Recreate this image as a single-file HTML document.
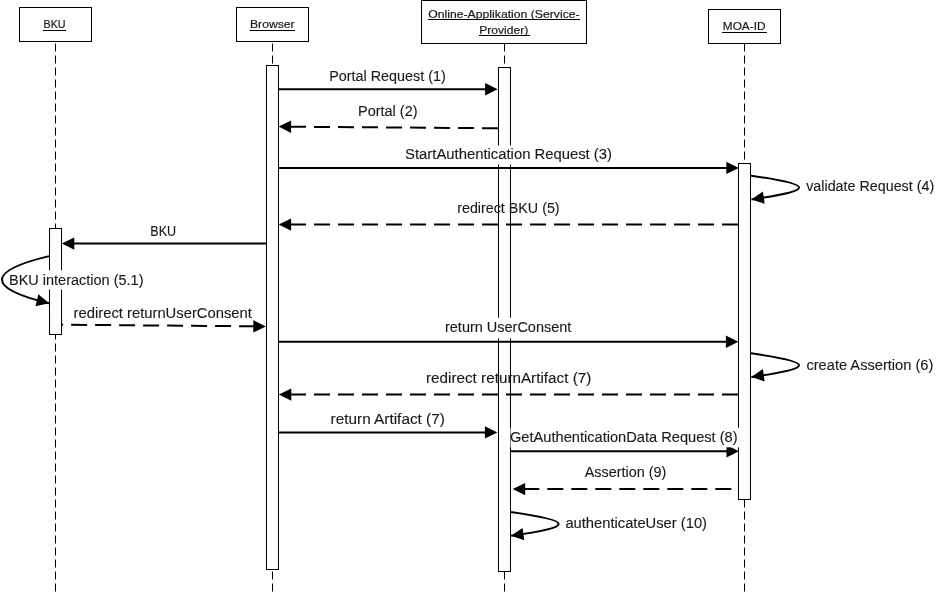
<!DOCTYPE html><html><head><meta charset="utf-8"><style>html,body{margin:0;padding:0;background:#fff;width:936px;height:592px;overflow:hidden}svg{display:block;will-change:transform}text{font-family:"Liberation Sans", sans-serif}</style></head><body>
<svg width="936" height="592" viewBox="0 0 936 592">
<rect x="0" y="0" width="936" height="592" fill="#fff"/>
<line x1="55.5" y1="43.5" x2="55.5" y2="592" stroke="#000" stroke-width="1" stroke-dasharray="8 4"/>
<line x1="272.5" y1="43.5" x2="272.5" y2="592" stroke="#000" stroke-width="1" stroke-dasharray="8 4"/>
<line x1="504.5" y1="43.5" x2="504.5" y2="592" stroke="#000" stroke-width="1" stroke-dasharray="8 4"/>
<line x1="744.5" y1="43.5" x2="744.5" y2="592" stroke="#000" stroke-width="1" stroke-dasharray="8 4"/>
<rect x="19.5" y="7.5" width="72" height="34" fill="#fff" stroke="#000" stroke-width="1"/>
<rect x="236.5" y="7.5" width="72" height="34" fill="#fff" stroke="#000" stroke-width="1"/>
<rect x="421.5" y="0.5" width="165" height="43" fill="#fff" stroke="#000" stroke-width="1"/>
<rect x="708.5" y="9.5" width="72" height="34" fill="#fff" stroke="#000" stroke-width="1"/>
<text x="43.5" y="28" font-size="11.5" textLength="22.0" lengthAdjust="spacingAndGlyphs" fill="#1a1a1a" stroke="#1a1a1a" stroke-width="0.2">BKU</text>
<rect x="43" y="30" width="23" height="1" fill="#000"/>
<text x="250" y="28" font-size="11.5" textLength="44.5" lengthAdjust="spacingAndGlyphs" fill="#1a1a1a" stroke="#1a1a1a" stroke-width="0.2">Browser</text>
<rect x="249.5" y="30" width="45.5" height="1" fill="#000"/>
<text x="428.2" y="18" font-size="11.5" textLength="151.5" lengthAdjust="spacingAndGlyphs" fill="#1a1a1a" stroke="#1a1a1a" stroke-width="0.2">Online-Applikation (Service-</text>
<rect x="428" y="19" width="152" height="1" fill="#000"/>
<text x="479.2" y="33.7" font-size="11.5" textLength="49" lengthAdjust="spacingAndGlyphs" fill="#1a1a1a" stroke="#1a1a1a" stroke-width="0.2">Provider)</text>
<rect x="479" y="35" width="51" height="1" fill="#000"/>
<text x="722.8" y="30" font-size="11.5" textLength="42.7" lengthAdjust="spacingAndGlyphs" fill="#1a1a1a" stroke="#1a1a1a" stroke-width="0.2">MOA-ID</text>
<rect x="722" y="32" width="45" height="1" fill="#000"/>
<rect x="266.5" y="65.5" width="12" height="504" fill="#fff" stroke="#000" stroke-width="1"/>
<rect x="498.5" y="67.5" width="12" height="504" fill="#fff" stroke="#000" stroke-width="1"/>
<rect x="738.5" y="163.5" width="12" height="336" fill="#fff" stroke="#000" stroke-width="1"/>
<rect x="49.5" y="228.5" width="12" height="106" fill="#fff" stroke="#000" stroke-width="1"/>
<text x="329.2" y="80.6" font-size="14" textLength="116.5" lengthAdjust="spacingAndGlyphs" fill="#1a1a1a" stroke="#1a1a1a" stroke-width="0.12">Portal Request (1)</text>
<line x1="278" y1="89.2" x2="486.60" y2="89.20" stroke="#000" stroke-width="2"/>
<polygon points="497.60,89.20 485.10,95.40 485.10,83.00" fill="#000"/>
<text x="358.1" y="115.6" font-size="14" textLength="59.4" lengthAdjust="spacingAndGlyphs" fill="#1a1a1a" stroke="#1a1a1a" stroke-width="0.12">Portal (2)</text>
<line x1="498" y1="128.3" x2="289.60" y2="126.69" stroke="#000" stroke-width="2" stroke-dasharray="16 8" stroke-dashoffset="0"/>
<polygon points="278.60,126.60 291.15,120.50 291.05,132.90" fill="#000"/>
<line x1="278" y1="167.9" x2="727.80" y2="167.90" stroke="#000" stroke-width="2"/>
<polygon points="738.80,167.90 726.30,174.10 726.30,161.70" fill="#000"/>
<rect x="403" y="145.5" width="210" height="19.0" fill="#fff"/>
<text x="405.1" y="159" font-size="14" textLength="206.9" lengthAdjust="spacingAndGlyphs" fill="#1a1a1a" stroke="#1a1a1a" stroke-width="0.12">StartAuthentication Request (3)</text>
<path d="M751,175.7 C815,184.7 815,190.4 751.4,199.4" fill="none" stroke="#000" stroke-width="2"/>
<polygon points="751.40,199.40 762.91,191.51 764.65,203.79" fill="#000"/>
<text x="806.2" y="191.3" font-size="14" textLength="128" lengthAdjust="spacingAndGlyphs" fill="#1a1a1a" stroke="#1a1a1a" stroke-width="0.12">validate Request (4)</text>
<text x="457.2" y="213" font-size="14" textLength="102.4" lengthAdjust="spacingAndGlyphs" fill="#1a1a1a" stroke="#1a1a1a" stroke-width="0.12">redirect BKU (5)</text>
<line x1="738" y1="224.6" x2="289.60" y2="224.60" stroke="#000" stroke-width="2" stroke-dasharray="16 8" stroke-dashoffset="0"/>
<polygon points="278.60,224.60 291.10,218.40 291.10,230.80" fill="#000"/>
<text x="150.3" y="235.8" font-size="14" textLength="25.8" lengthAdjust="spacingAndGlyphs" fill="#1a1a1a" stroke="#1a1a1a" stroke-width="0.12">BKU</text>
<line x1="266" y1="243.6" x2="72.80" y2="243.60" stroke="#000" stroke-width="2"/>
<polygon points="61.80,243.60 74.30,237.40 74.30,249.80" fill="#000"/>
<path d="M49.1,256.1 C-13.7,271.1 -13.7,288.2 49.1,303.2" fill="none" stroke="#000" stroke-width="2"/>
<polygon points="49.10,303.20 35.50,306.33 38.38,294.27" fill="#000"/>
<rect x="40" y="270.3" width="30" height="19.19999999999999" fill="#fff"/>
<text x="9" y="284.6" font-size="14" textLength="134.5" lengthAdjust="spacingAndGlyphs" fill="#1a1a1a" stroke="#1a1a1a" stroke-width="0.12">BKU interaction (5.1)</text>
<text x="73.6" y="317.9" font-size="14" textLength="178.3" lengthAdjust="spacingAndGlyphs" fill="#1a1a1a" stroke="#1a1a1a" stroke-width="0.12">redirect returnUserConsent</text>
<line x1="61.2" y1="324.7" x2="254.80" y2="326.31" stroke="#000" stroke-width="2" stroke-dasharray="16 8" stroke-dashoffset="14.1"/>
<polygon points="265.80,326.40 253.25,332.50 253.35,320.10" fill="#000"/>
<line x1="278" y1="341.8" x2="727.40" y2="341.80" stroke="#000" stroke-width="2"/>
<polygon points="738.40,341.80 725.90,348.00 725.90,335.60" fill="#000"/>
<rect x="442" y="317.7" width="132" height="20.5" fill="#fff"/>
<text x="445" y="332.3" font-size="14" textLength="126.3" lengthAdjust="spacingAndGlyphs" fill="#1a1a1a" stroke="#1a1a1a" stroke-width="0.12">return UserConsent</text>
<path d="M751,353.3 C815,362.3 815,368.0 751.4,377.0" fill="none" stroke="#000" stroke-width="2"/>
<polygon points="751.40,377.00 762.91,369.11 764.65,381.39" fill="#000"/>
<text x="806.4" y="370.0" font-size="14" textLength="127" lengthAdjust="spacingAndGlyphs" fill="#1a1a1a" stroke="#1a1a1a" stroke-width="0.12">create Assertion (6)</text>
<text x="426" y="382.5" font-size="14" textLength="165.3" lengthAdjust="spacingAndGlyphs" fill="#1a1a1a" stroke="#1a1a1a" stroke-width="0.12">redirect returnArtifact (7)</text>
<line x1="738" y1="394.6" x2="289.80" y2="394.60" stroke="#000" stroke-width="2" stroke-dasharray="16 8" stroke-dashoffset="0"/>
<polygon points="278.80,394.60 291.30,388.40 291.30,400.80" fill="#000"/>
<text x="330.6" y="424.2" font-size="14" textLength="114.3" lengthAdjust="spacingAndGlyphs" fill="#1a1a1a" stroke="#1a1a1a" stroke-width="0.12">return Artifact (7)</text>
<line x1="278" y1="432.4" x2="486.40" y2="432.40" stroke="#000" stroke-width="2"/>
<polygon points="497.40,432.40 484.90,438.60 484.90,426.20" fill="#000"/>
<line x1="510" y1="451.2" x2="728.00" y2="451.20" stroke="#000" stroke-width="2"/>
<polygon points="739.00,451.20 726.50,457.40 726.50,445.00" fill="#000"/>
<rect x="510.5" y="427.7" width="229.5" height="19.600000000000023" fill="#fff"/>
<text x="510" y="442.3" font-size="14" textLength="227.6" lengthAdjust="spacingAndGlyphs" fill="#1a1a1a" stroke="#1a1a1a" stroke-width="0.12">GetAuthenticationData Request (8)</text>
<text x="584.7" y="477.2" font-size="14" textLength="81.7" lengthAdjust="spacingAndGlyphs" fill="#1a1a1a" stroke="#1a1a1a" stroke-width="0.12">Assertion (9)</text>
<line x1="738" y1="489.1" x2="523.70" y2="489.10" stroke="#000" stroke-width="2" stroke-dasharray="16 8" stroke-dashoffset="17.3"/>
<polygon points="512.70,489.10 525.20,482.90 525.20,495.30" fill="#000"/>
<path d="M510.6,512.1 C574.6,521.1 574.6,526.8 511.0,535.8" fill="none" stroke="#000" stroke-width="2"/>
<polygon points="511.00,535.80 522.51,527.91 524.25,540.19" fill="#000"/>
<text x="565.4" y="527.6" font-size="14" textLength="141.6" lengthAdjust="spacingAndGlyphs" fill="#1a1a1a" stroke="#1a1a1a" stroke-width="0.12">authenticateUser (10)</text>
</svg></body></html>
